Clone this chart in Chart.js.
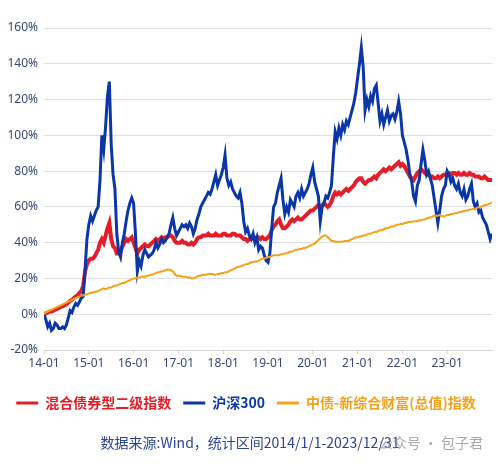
<!DOCTYPE html>
<html>
<head>
<meta charset="utf-8">
<script src="https://cdn.jsdelivr.net/npm/chart.js@4.4.0/dist/chart.umd.min.js"></script>
<style>
  body { margin: 0; background: #fff; }
  #wrap { position: relative; width: 500px; height: 465px; }
  #source {
    position: absolute; left: 0; width: 500px; top: 432px;
    text-align: center; font: 14px 'Noto Sans CJK SC', sans-serif; color: #2b4590;
  }
  #mark {
    position: absolute; right: 17px; top: 432px;
    font: 14px 'Noto Sans CJK SC', sans-serif; color: rgba(140, 140, 140, 0.75);
  }
</style>
</head>
<body>
<div id="wrap">
  <canvas id="chart" width="500" height="465"></canvas>
  <div id="source">数据来源:Wind，统计区间2014/1/1-2023/12/31</div>
  <div id="mark">公众号 · 包子君</div>
</div>
<script>
// half-month samples, 2014-01 .. 2024-01 (cumulative return, %)
const seriesNames = ['混合债券型二级指数', '沪深300', '中债-新综合财富(总值)指数'];

const mixedBond = [
  0, 0.5, 1, 1.5, 1.5, 2, 2.5, 3, 3.5, 4, 4.5, 5, 5.5, 6.5, 7.5, 8, 9, 10, 10.5, 12, 13, 16, 24, 28,
  30, 31, 31, 32, 34, 36, 40, 42, 40, 44, 48, 51, 42, 38, 37, 34, 34, 35, 38, 40, 42, 41, 42, 43,
  40, 37, 34, 36, 37, 38, 39, 38, 38, 39, 40, 41, 42, 41, 42, 43, 42, 43, 43, 44, 44, 43, 41, 40,
  40, 40, 41, 40, 40, 39, 39, 40, 39, 40, 42, 43, 43, 44, 44, 44, 45, 44, 44, 44, 45, 44, 44, 44,
  45, 45, 44, 44, 44, 45, 45, 44, 44, 44, 43, 42, 42, 41, 42, 42, 43, 42, 43, 43, 42, 43, 42, 42,
  43, 44, 47, 49, 50, 52, 53, 50, 48, 48, 49, 50, 52, 53, 52, 53, 54, 53, 53, 54, 55, 56, 57, 58,
  58, 59, 60, 61, 59, 61, 62, 61, 60, 61, 63, 66, 68, 67, 68, 67, 68, 69, 70, 69, 70, 71, 72, 74,
  75, 76, 76, 74, 73, 74, 75, 75, 76, 77, 76, 78, 79, 80, 81, 80, 81, 82, 81, 82, 83, 84, 85, 83,
  84, 83, 81, 79, 77, 76, 75, 77, 79, 80, 81, 80, 79, 78, 78, 77, 77, 76, 76, 77, 76, 77, 78, 78,
  79, 79, 78, 79, 79, 78, 79, 78, 78, 79, 78, 78, 79, 78, 78, 77, 77, 77, 76, 76, 77, 76, 75, 75,
  75
];

const csi300 = [
  0, -3, -7, -5, -9, -8, -5, -6, -8, -8, -7, -8, -6, -2, 2, 1, 4, 6, 5, 7, 9, 10, 25, 42,
  50, 55, 52, 55, 58, 60, 75, 100, 92, 105, 122, 130, 95, 78, 70, 45, 35, 32, 40, 45, 52, 58, 62, 65,
  62, 45, 24, 30, 27, 33, 36, 34, 32, 33, 34, 36, 40, 37, 39, 42, 40, 41, 43, 45, 50, 54, 48, 44,
  46, 48, 50, 49, 50, 48, 51, 49, 45, 48, 53, 56, 60, 62, 64, 66, 68, 67, 70, 74, 78, 72, 75, 78,
  82, 89, 76, 72, 74, 70, 68, 66, 65, 68, 62, 52, 46, 48, 44, 42, 45, 40, 43, 36, 38, 37, 33, 30,
  29, 34, 48, 60, 62, 68, 72, 76, 64, 56, 60, 57, 64, 62, 60, 66, 68, 65, 70, 66, 68, 70, 73, 78,
  82, 74, 70, 66, 52, 60, 62, 66, 65, 68, 72, 88, 102, 98, 104, 100, 106, 103, 108, 106, 110, 114, 118, 124,
  132, 140, 149, 138, 114, 120, 116, 122, 119, 126, 128, 118, 108, 112, 106, 110, 114, 108, 111, 112, 109, 113, 119, 112,
  100, 96, 92, 86, 78, 74, 66, 63, 72, 75, 84, 92, 86, 78, 80, 76, 72, 65, 58, 51, 58, 66, 70, 72,
  80, 78, 74, 76, 72, 70, 73, 68, 66, 70, 64, 66, 70, 73, 63, 60, 62, 57, 58, 54, 52, 50, 46, 42,
  45
];

const bondWealth = [
  0, 1, 1.5, 2, 2.5, 3, 3.5, 4, 4.5, 5, 5.5, 6, 6.5, 7, 7.5, 8, 8.5, 9, 9.5, 10, 10.5, 10.5, 11, 11,
  11.5, 12, 12, 12.5, 12.5, 13, 13.5, 14, 14.5, 14, 14.5, 15, 15, 15.5, 16, 16, 16.5, 17, 17.5, 17.5, 18, 18.5, 19, 19.5,
  20, 20, 20.5, 20.5, 21, 21, 21, 21.5, 21.5, 22, 22, 22.5, 23, 23.5, 23.5, 24, 24, 24.5, 25, 25, 24.5, 24, 22.5, 21.5,
  21.5, 21.5, 21, 21, 21, 20.5, 20.5, 20, 20, 20.5, 21, 21.5, 21.5, 22, 22, 22, 22.5, 22.5, 22.5, 22, 22, 22.5, 22.5, 23,
  23, 23.5, 23.5, 24, 24.5, 25, 25.5, 26, 26.5, 26.5, 27, 27.5, 28, 28, 28.5, 29, 29, 29.5, 29.5, 30, 30.5, 31, 31, 31.5,
  32, 32, 32.5, 33, 33, 33, 33, 33.5, 33.5, 34, 34, 34.5, 35, 35, 35.5, 36, 36, 36.5, 36.5, 37, 37, 37.5, 38, 38.5,
  39, 39.5, 40.5, 41.5, 42.5, 43.5, 44, 44, 43, 42, 41, 41, 40.5, 40.5, 40.5, 40.5, 40.5, 41, 41, 41, 41.5, 42, 42.5, 43,
  43, 43.5, 43.5, 44, 44, 44.5, 45, 45, 45.5, 46, 46, 46.5, 47, 47, 47.5, 48, 48, 48.5, 49, 49, 49.5, 50, 50, 50.5,
  50.5, 51, 51, 51.5, 51.5, 51.5, 52, 52, 52, 52.5, 52.5, 53, 53, 53.5, 54, 54, 54.5, 55, 55, 55, 55.5, 55, 54.5, 55,
  55.5, 55.5, 56, 56, 56.5, 56.5, 57, 57, 57.5, 57.5, 58, 58, 58.5, 58.5, 59, 59, 59.5, 60, 60, 60.5, 61, 61, 61.5, 62,
  62.5
];

const yTicks = [-20, 0, 20, 40, 60, 80, 100, 120, 140, 160];
const xYears = [2014, 2015, 2016, 2017, 2018, 2019, 2020, 2021, 2022, 2023];

const colors = ['#e31e28', '#0b37a6', '#f4a21e'];

// sample dates: one every half month
const dates = csi300.map((_, i) => 2014 + i / 24);
const toPoints = arr => arr.map((v, i) => ({ x: dates[i], y: v }));

const tickFont = { family: "'Noto Sans', sans-serif", size: 12 };
const tickColor = '#3a4878';

new Chart(document.getElementById('chart'), {
    type: 'line',
    data: {
        datasets: [
            { label: seriesNames[0], data: toPoints(mixedBond), borderColor: colors[0], borderWidth: 4, order: 3 },
            { label: seriesNames[1], data: toPoints(csi300), borderColor: colors[1], borderWidth: 3, order: 2 },
            { label: seriesNames[2], data: toPoints(bondWealth), borderColor: colors[2], borderWidth: 2, order: 1 }
        ]
    },
    options: {
        responsive: false,
        animation: false,
        devicePixelRatio: 1,
        elements: { point: { radius: 0 }, line: { tension: 0 } },
        layout: { padding: { top: 28, right: 8, bottom: 45, left: 0 } },
        scales: {
            x: {
                type: 'linear',
                min: 2014,
                max: 2024,
                afterBuildTicks: axis => { axis.ticks = xYears.map(v => ({ value: v })); },
                afterFit: axis => { axis.height = 34; },
                ticks: {
                    font: tickFont,
                    color: tickColor,
                    padding: 2,
                    maxRotation: 0,
                    callback: v => String(v - 2000) + '-01'
                },
                grid: { drawOnChartArea: false, drawTicks: true, tickLength: 4, color: '#d6d6d6' },
                border: { display: true, color: '#d6d6d6' }
            },
            y: {
                min: -20,
                max: 160,
                afterBuildTicks: axis => { axis.ticks = yTicks.map(v => ({ value: v })); },
                afterFit: axis => { axis.width = 44; },
                ticks: {
                    font: tickFont,
                    color: tickColor,
                    padding: 6,
                    callback: v => v + '%'
                },
                grid: { color: '#e0e0e0', drawTicks: false },
                border: { display: false }
            }
        },
        plugins: {
            tooltip: { enabled: false },
            legend: {
                position: 'bottom',
                labels: {
                    boxWidth: 22,
                    boxHeight: 3,
                    padding: 12,
                    font: { family: "'Noto Sans CJK SC', sans-serif", size: 14, weight: 'bold' },
                    generateLabels: chart => chart.data.datasets.map((ds, i) => ({
                        text: ds.label,
                        fillStyle: ds.borderColor,
                        strokeStyle: ds.borderColor,
                        fontColor: ds.borderColor,
                        lineWidth: 0,
                        hidden: false,
                        datasetIndex: i
                    }))
                }
            }
        }
    }
});
</script>
</body>
</html>
